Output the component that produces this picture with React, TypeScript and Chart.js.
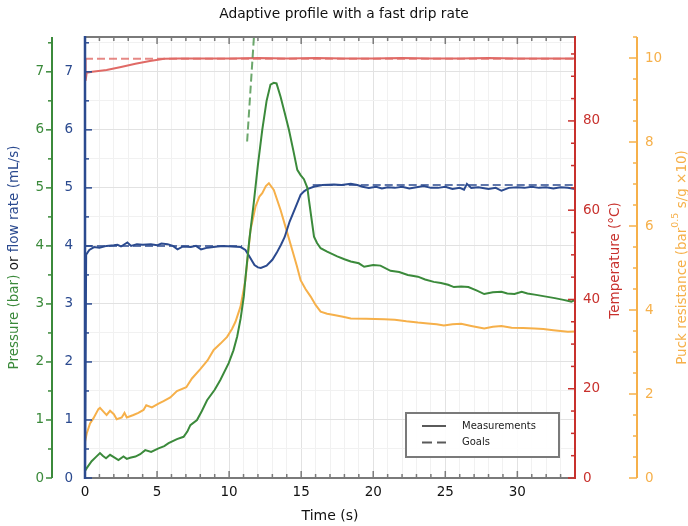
import React, { useEffect, useRef } from 'react';
import { Chart, registerables } from 'chart.js';

Chart.register(...registerables);

// ---------- data ----------
const TITLE = 'Adaptive profile with a fast drip rate';
const X_MAX = 34;
const P_MAX = 7.6;
const T_MAX = 98.8;
const R_MAX = 10.5;

const pressureTime = [0.0, 0.12, 0.46, 0.75, 1.04, 1.25, 1.46, 1.74, 2.0, 2.32, 2.67, 2.9, 3.13, 3.5, 3.83, 4.18, 4.59, 5.1, 5.5, 5.8, 6.38, 6.84, 7.1, 7.31, 7.77, 8.1, 8.47, 9.0, 9.39, 9.97, 10.3, 10.56, 10.8, 11.02, 11.13, 11.4, 11.71, 12.0, 12.3, 12.6, 12.87, 13.1, 13.29, 13.57, 13.85, 14.15, 14.45, 14.73, 14.96, 15.19, 15.43, 15.54, 15.7, 15.89, 16.1, 16.35, 16.8, 17.5, 18.0, 18.44, 19.0, 19.37, 20.0, 20.5, 21.2, 21.8, 22.4, 23.1, 23.6, 24.2, 24.7, 25.2, 25.6, 26.1, 26.6, 27.2, 27.7, 28.3, 28.9, 29.3, 29.8, 30.3, 30.7, 31.2, 31.9, 32.6, 33.2, 33.75, 34.0];
const pressureValues = [0.12, 0.17, 0.29, 0.36, 0.43, 0.38, 0.34, 0.40, 0.36, 0.31, 0.37, 0.33, 0.35, 0.37, 0.41, 0.48, 0.45, 0.51, 0.55, 0.60, 0.67, 0.71, 0.80, 0.91, 1.0, 1.15, 1.34, 1.52, 1.69, 1.98, 2.2, 2.44, 2.75, 3.13, 3.44, 4.1, 4.74, 5.4, 6.0, 6.5, 6.78, 6.81, 6.80, 6.57, 6.3, 6.0, 5.65, 5.31, 5.22, 5.15, 5.0, 4.79, 4.5, 4.16, 4.05, 3.96, 3.9, 3.82, 3.77, 3.73, 3.70, 3.64, 3.67, 3.66, 3.57, 3.55, 3.50, 3.47, 3.42, 3.38, 3.36, 3.33, 3.29, 3.30, 3.29, 3.23, 3.17, 3.20, 3.21, 3.18, 3.17, 3.21, 3.18, 3.16, 3.13, 3.10, 3.07, 3.04, 3.07];

const pressureGoalTime = [11.25, 11.8];
const pressureGoalValues = [5.8, 7.9];

const flowTime = [0.0, 0.08, 0.3, 0.63, 1.0, 1.5, 2.0, 2.25, 2.5, 2.94, 3.2, 3.6, 4.0, 4.57, 5.0, 5.3, 5.73, 6.1, 6.42, 6.8, 7.35, 7.7, 8.05, 8.5, 9.2, 9.6, 10.2, 10.8, 11.13, 11.4, 11.76, 12.0, 12.2, 12.6, 13.0, 13.3, 13.6, 13.85, 14.2, 14.6, 14.96, 15.2, 15.43, 15.87, 16.47, 17.28, 17.8, 18.44, 18.9, 19.25, 19.7, 20.2, 20.6, 21.0, 21.5, 22.0, 22.5, 23.0, 23.5, 24.0, 24.5, 25.0, 25.5, 26.0, 26.3, 26.5, 26.8, 27.3, 28.0, 28.5, 28.9, 29.4, 30.0, 30.5, 31.0, 31.5, 32.0, 32.5, 33.0, 33.5, 34.0];
const flowValues = [0.0, 3.85, 3.93, 3.98, 3.97, 4.0, 4.01, 4.02, 3.99, 4.06, 4.0, 4.03, 4.02, 4.03, 4.01, 4.04, 4.03, 4.0, 3.94, 3.99, 3.98, 4.0, 3.94, 3.97, 3.99, 4.0, 3.99, 3.98, 3.93, 3.82, 3.67, 3.63, 3.62, 3.66, 3.76, 3.88, 4.02, 4.15, 4.42, 4.66, 4.88, 4.94, 4.98, 5.02, 5.05, 5.06, 5.05, 5.07, 5.05, 5.02, 5.0, 5.02, 4.99, 5.01, 5.0, 5.02, 4.99, 5.01, 5.03, 5.0, 5.0, 5.02, 4.98, 5.0, 4.97, 5.07, 5.0, 5.01, 4.98, 5.0, 4.95, 5.0, 5.01, 5.0, 5.02, 5.0, 5.01, 4.99, 5.01, 5.0, 4.98];

const flowGoalTime = [0, 10.9, 13.0, 15.8, 34];
const flowGoalValues = [4.0, 4.0, null, 5.05, 5.05];

const temperatureTime = [0.0, 0.04, 0.12, 0.5, 1.5, 2.5, 3.5, 4.5, 5.5, 6.5, 8, 10, 12, 14, 16, 18, 20, 22, 24, 26, 28, 30, 32, 34];
const temperatureValues = [94.0, 89.0, 90.8, 91.0, 91.4, 92.1, 92.8, 93.4, 93.9, 94.0, 94.0, 94.0, 94.1, 94.0, 94.1, 94.0, 94.0, 94.1, 94.0, 94.0, 94.1, 94.0, 94.0, 94.0];

const temperatureGoalTime = [0, 34];
const temperatureGoalValues = [93.9, 93.9];

const resistanceTime = [0.0, 0.12, 0.35, 0.58, 0.93, 1.04, 1.39, 1.5, 1.74, 2.0, 2.2, 2.55, 2.74, 2.9, 3.36, 3.7, 4.06, 4.25, 4.64, 5.1, 5.45, 5.92, 6.38, 7.03, 7.42, 8.0, 8.5, 8.93, 9.4, 9.86, 10.2, 10.44, 10.79, 11.13, 11.48, 11.83, 12.1, 12.3, 12.55, 12.76, 13.1, 13.57, 14.04, 14.38, 14.7, 14.96, 15.3, 15.66, 16.0, 16.35, 16.8, 17.28, 17.9, 18.44, 19.5, 20.76, 21.5, 22.3, 23.1, 23.8, 24.4, 24.9, 25.5, 26.1, 26.8, 27.7, 28.3, 28.9, 29.6, 30.4, 31.2, 31.8, 32.5, 33.0, 33.5, 34.0];
const resistanceValues = [0.86, 1.06, 1.30, 1.42, 1.64, 1.67, 1.54, 1.50, 1.60, 1.52, 1.40, 1.44, 1.55, 1.44, 1.50, 1.55, 1.62, 1.73, 1.68, 1.77, 1.83, 1.92, 2.07, 2.16, 2.37, 2.59, 2.80, 3.05, 3.20, 3.36, 3.55, 3.72, 4.08, 4.71, 5.9, 6.46, 6.70, 6.78, 6.95, 7.02, 6.86, 6.38, 5.83, 5.43, 5.05, 4.71, 4.50, 4.32, 4.12, 3.96, 3.91, 3.88, 3.84, 3.80, 3.79, 3.78, 3.77, 3.73, 3.70, 3.68, 3.66, 3.63, 3.66, 3.67, 3.62, 3.56, 3.60, 3.62, 3.58, 3.57, 3.56, 3.55, 3.52, 3.50, 3.48, 3.49];

const legendLabels = ['Measurements', 'Goals'];

// ---------- styles ----------
const FONT = "'DejaVu Sans', 'Liberation Sans', sans-serif";
const GREEN = '#3b8a3b';
const GREEN_GOAL = 'rgba(59,138,59,0.75)';
const BLUE = '#2b4a8f';
const BLUE_GOAL = 'rgba(43,74,143,0.75)';
const RED_AXIS = '#c8312d';
const RED_LINE = '#e06a66';
const RED_GOAL = 'rgba(224,106,102,0.8)';
const ORANGE = '#f6b04a';
const GRAY = '#7a7a7a';
const DASH = [8, 4];

function pts(xs: number[], ys: (number | null)[]) {
  return xs.map((x, i) => ({ x, y: ys[i] }));
}

function drawRotatedParts(ctx: CanvasRenderingContext2D, cx: number, cy: number,
  parts: { text: string; color: string; sup?: boolean }[], size: number) {
  ctx.save();
  ctx.translate(cx, cy);
  ctx.rotate(-Math.PI / 2);
  ctx.textBaseline = 'middle';
  ctx.textAlign = 'left';
  const widths = parts.map((p) => {
    ctx.font = `${p.sup ? size * 0.7 : size}px ${FONT}`;
    return ctx.measureText(p.text).width;
  });
  const total = widths.reduce((a, b) => a + b, 0);
  let x = -total / 2;
  parts.forEach((p, i) => {
    ctx.font = `${p.sup ? size * 0.7 : size}px ${FONT}`;
    ctx.fillStyle = p.color;
    ctx.fillText(p.text, x, p.sup ? -size * 0.45 : 0);
    x += widths[i];
  });
  ctx.restore();
}

const decorPlugin = {
  id: 'decor',
  afterDatasetsDraw(chart: any) {
    const { ctx, chartArea: ca, scales } = chart;
    const sx = scales.x, yF = scales.yF, yP = scales.yP, yT = scales.yT, yR = scales.yR;
    ctx.save();
    ctx.setLineDash([]);
    const seg = (x1: number, y1: number, x2: number, y2: number, color: string, w: number) => {
      ctx.strokeStyle = color;
      ctx.lineWidth = w;
      ctx.beginPath();
      ctx.moveTo(x1, y1);
      ctx.lineTo(x2, y2);
      ctx.stroke();
    };
    // x ticks top and bottom (inward)
    for (let t = 0; t <= X_MAX; t += 1) {
      const px = sx.getPixelForValue(t);
      const len = t % 5 === 0 ? 7 : 4;
      seg(px, ca.bottom, px, ca.bottom - len, GRAY, 1.5);
      seg(px, ca.top, px, ca.top + len, GRAY, 1.5);
    }
    seg(ca.left, ca.top, ca.right, ca.top, GRAY, 2);
    seg(ca.left, ca.bottom, ca.right, ca.bottom, GRAY, 2);

    // flow axis (inner left, ticks inward)
    for (let i = 0; i <= 15; i++) {
      const py = yF.getPixelForValue(i * 0.5);
      seg(ca.left, py, ca.left + (i % 2 === 0 ? 7 : 4), py, BLUE, 1.5);
    }
    seg(ca.left, ca.top - 1, ca.left, ca.bottom + 1, BLUE, 2.5);

    // pressure axis (outer left, ticks outward)
    const pX = yP.right;
    for (let i = 0; i <= 15; i++) {
      const py = yP.getPixelForValue(i * 0.5);
      seg(pX, py, pX - (i % 2 === 0 ? 6 : 4), py, GREEN, 1.5);
    }
    seg(pX, ca.top, pX, ca.bottom, GREEN, 2);

    // temperature axis (inner right, ticks inward)
    for (let v = 0; v <= 95; v += 5) {
      const py = yT.getPixelForValue(v);
      seg(ca.right, py, ca.right - (v % 20 === 0 ? 7 : 4), py, RED_AXIS, 1.5);
    }
    seg(ca.right, ca.top - 1, ca.right, ca.bottom + 1, RED_AXIS, 2);

    // resistance axis (outer right, ticks toward plot)
    const rX = yR.left;
    for (let i = 0; i <= 21; i++) {
      const py = yR.getPixelForValue(i * 0.5);
      seg(rX, py, rX - (i % 4 === 0 ? 8 : 4), py, ORANGE, 1.5);
    }
    seg(rX, ca.top, rX, ca.bottom, ORANGE, 2);
    ctx.restore();
  },
  afterDraw(chart: any) {
    const { ctx, chartArea: ca, scales } = chart;
    const midY = (ca.top + ca.bottom) / 2;
    const size = 13.5;
    drawRotatedParts(ctx, 14, midY, [
      { text: 'Pressure (bar)', color: GREEN },
      { text: ' or ', color: '#111' },
      { text: 'flow rate (mL/s)', color: BLUE },
    ], size);
    drawRotatedParts(ctx, scales.yT.right - 22, midY + 3, [
      { text: 'Temperature (°C)', color: RED_AXIS },
    ], size);
    drawRotatedParts(ctx, scales.yR.right - 6, midY, [
      { text: 'Puck resistance (bar', color: ORANGE },
      { text: '0.5', color: ORANGE, sup: true },
      { text: ' s/g ×10)', color: ORANGE },
    ], size);

    // legend
    ctx.save();
    const bw = 153, bh = 44;
    const bx = ca.right - 16 - bw;
    const by = ca.bottom - 21 - bh;
    ctx.fillStyle = 'rgba(255,255,255,0.9)';
    ctx.fillRect(bx, by, bw, bh);
    ctx.strokeStyle = GRAY;
    ctx.lineWidth = 2;
    ctx.strokeRect(bx, by, bw, bh);
    const rows = [by + 13, by + 29.5];
    ctx.font = `10px ${FONT}`;
    ctx.textBaseline = 'middle';
    ctx.textAlign = 'left';
    legendLabels.forEach((lab, i) => {
      ctx.strokeStyle = '#5a5a5a';
      ctx.lineWidth = 2;
      ctx.setLineDash(i === 0 ? [] : [10, 5]);
      ctx.beginPath();
      ctx.moveTo(bx + 16, rows[i]);
      ctx.lineTo(bx + 40, rows[i]);
      ctx.stroke();
      ctx.setLineDash([]);
      ctx.fillStyle = '#222';
      ctx.fillText(lab, bx + 56, rows[i]);
    });
    ctx.restore();
  },
};

export default function App() {
  const ref = useRef<HTMLCanvasElement | null>(null);

  useEffect(() => {
    if (!ref.current) return;
    Chart.defaults.font.family = FONT;
    const line = (data: any[], color: string, axis: string, dashed = false) => ({
      data,
      yAxisID: axis,
      borderColor: color,
      backgroundColor: color,
      borderWidth: 2,
      borderDash: dashed ? DASH : [],
      pointRadius: 0,
      tension: 0,
      fill: false,
      spanGaps: false,
    });
    const tickFont = { size: 13.5, family: FONT };
    const chart = new Chart(ref.current, {
      type: 'line',
      data: {
        datasets: [
          line(pts(pressureTime, pressureValues), GREEN, 'yP'),
          line(pts(pressureGoalTime, pressureGoalValues), GREEN_GOAL, 'yP', true),
          line(pts(flowTime, flowValues), BLUE, 'yF'),
          line(pts(flowGoalTime, flowGoalValues), BLUE_GOAL, 'yF', true),
          line(pts(resistanceTime, resistanceValues), ORANGE, 'yR'),
          line(pts(temperatureTime, temperatureValues), RED_LINE, 'yT'),
          line(pts(temperatureGoalTime, temperatureGoalValues), RED_GOAL, 'yT', true),
        ] as any,
      },
      options: {
        animation: false,
        responsive: true,
        maintainAspectRatio: false,
        devicePixelRatio: 1,
        layout: { padding: 0 },
        plugins: {
          legend: { display: false },
          tooltip: { enabled: false },
          title: {
            display: true,
            text: TITLE,
            color: '#111',
            font: { size: 13.8, family: FONT, weight: 'normal', lineHeight: '16px' } as any,
            padding: { top: 6, bottom: 15 },
          },
        },
        scales: {
          x: {
            type: 'linear',
            position: 'bottom',
            min: 0,
            max: X_MAX,
            afterFit: (s: any) => { s.height = 48; },
            border: { display: false },
            grid: {
              drawTicks: false,
              lineWidth: 1,
              color: (c: any) => (c.tick && c.tick.value % 5 === 0 ? '#e2e2e2' : '#f1f1f1'),
            },
            ticks: {
              stepSize: 1,
              autoSkip: false,
              maxRotation: 0,
              padding: 6,
              color: '#111',
              font: tickFont,
              callback: (v: any) => (Number(v) % 5 === 0 ? String(v) : ''),
            },
            title: {
              display: true,
              text: 'Time (s)',
              color: '#111',
              font: { size: 14, family: FONT },
              padding: { top: 0, bottom: 1 },
            },
          },
          yF: {
            type: 'linear',
            position: 'left',
            weight: 0,
            min: 0,
            max: P_MAX,
            afterFit: (s: any) => { s.width = 33; },
            border: { display: false },
            grid: {
              drawTicks: false,
              lineWidth: 1,
              color: (c: any) => (c.tick && Number.isInteger(c.tick.value) ? '#e2e2e2' : '#f1f1f1'),
            },
            ticks: {
              stepSize: 0.5,
              includeBounds: false,
              autoSkip: false,
              padding: 12,
              color: BLUE,
              font: tickFont,
              callback: (v: any) => (Number.isInteger(Number(v)) ? String(v) : ''),
            },
          },
          yP: {
            type: 'linear',
            position: 'left',
            weight: 1,
            min: 0,
            max: P_MAX,
            afterFit: (s: any) => { s.width = 52; },
            border: { display: false },
            grid: { display: false, drawTicks: false },
            ticks: {
              stepSize: 1,
              includeBounds: false,
              autoSkip: false,
              padding: 8,
              color: GREEN,
              font: tickFont,
            },
          },
          yT: {
            type: 'linear',
            position: 'right',
            weight: 0,
            min: 0,
            max: T_MAX,
            afterFit: (s: any) => { s.width = 62; },
            border: { display: false },
            grid: { display: false, drawTicks: false },
            ticks: {
              stepSize: 20,
              includeBounds: false,
              autoSkip: false,
              padding: 8,
              color: RED_AXIS,
              font: tickFont,
            },
          },
          yR: {
            type: 'linear',
            position: 'right',
            weight: 1,
            min: 0,
            max: R_MAX,
            afterFit: (s: any) => { s.width = 51; },
            border: { display: false },
            grid: { display: false, drawTicks: false },
            ticks: {
              stepSize: 2,
              includeBounds: false,
              autoSkip: false,
              padding: 8,
              color: ORANGE,
              font: tickFont,
            },
          },
        },
      } as any,
      plugins: [decorPlugin],
    });
    return () => chart.destroy();
  }, []);

  return (
    <div style={{ position: 'fixed', left: 0, top: 0, width: 688, height: 526, background: '#fff' }}>
      <canvas ref={ref} />
    </div>
  );
}
